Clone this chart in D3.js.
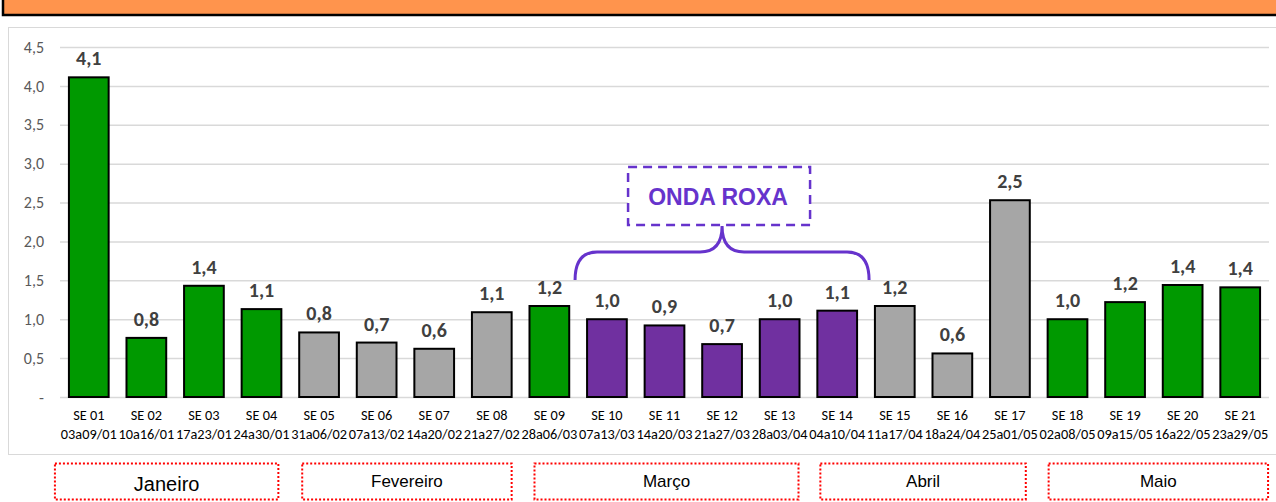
<!DOCTYPE html>
<html>
<head>
<meta charset="utf-8">
<script src="https://cdn.jsdelivr.net/npm/d3@7"></script>
<style>
  body { margin: 0; background: #fff; }
  svg { display: block; }
</style>
</head>
<body>
<svg id="chart" width="1276" height="502"></svg>
<script>
// semanas epidemiológicas
const weeks = ["SE 01","SE 02","SE 03","SE 04","SE 05","SE 06","SE 07","SE 08","SE 09","SE 10","SE 11",
               "SE 12","SE 13","SE 14","SE 15","SE 16","SE 17","SE 18","SE 19","SE 20","SE 21"];
const ranges = ["03a09/01","10a16/01","17a23/01","24a30/01","31a06/02","07a13/02","14a20/02","21a27/02",
                "28a06/03","07a13/03","14a20/03","21a27/03","28a03/04","04a10/04","11a17/04","18a24/04",
                "25a01/05","02a08/05","09a15/05","16a22/05","23a29/05"];
const values = [4.11, 0.76, 1.43, 1.13, 0.83, 0.70, 0.62, 1.09, 1.17, 1.00, 0.92,
                0.68, 1.00, 1.11, 1.17, 0.56, 2.53, 1.00, 1.22, 1.44, 1.41];
// g = verde, c = cinza, r = roxo
const groups = ["g","g","g","g","c","c","c","c","g","r","r","r","r","r","c","c","c","g","g","g","g"];
const yTicks = [0, 0.5, 1, 1.5, 2, 2.5, 3, 3.5, 4, 4.5];
const months = [
  { name: "Janeiro",   from: "SE 01", to: "SE 04" },
  { name: "Fevereiro", from: "SE 05", to: "SE 08" },
  { name: "Março",     from: "SE 09", to: "SE 13" },
  { name: "Abril",     from: "SE 14", to: "SE 17" },
  { name: "Maio",      from: "SE 18", to: "SE 21" }
];
const wave = { label: "ONDA ROXA", from: "SE 10", to: "SE 14" };

const COLORS = { g: "#009900", c: "#a6a6a6", r: "#7030a0" };
const FONT = "Carlito, Calibri, Roboto, 'Liberation Sans', sans-serif";
const fmt = v => d3.format(".1f")(v).replace(".", ",");

const svg = d3.select("#chart");
const m = { left: 60, right: 1269, top: 47, bottom: 397 };

// faixa laranja do título
svg.append("rect").attr("x", 3).attr("y", -4).attr("width", 1290).attr("height", 19)
   .attr("fill", "#ff944d").attr("stroke", "#000").attr("stroke-width", 2.5);

// painel do gráfico
svg.append("rect").attr("x", 8.5).attr("y", 27.5).attr("width", 1280).attr("height", 427)
   .attr("fill", "#fff").attr("stroke", "#d9d9d9").attr("stroke-width", 1);

const x = d3.scaleBand().domain(weeks).range([m.left, m.right]).paddingInner(0.31).paddingOuter(0.155);
const y = d3.scaleLinear().domain([0, 4.5]).range([m.bottom, m.top]);

// grade
svg.append("g")
  .attr("transform", `translate(${m.left},0)`)
  .call(d3.axisLeft(y).tickValues(yTicks).tickSize(-(m.right - m.left)).tickFormat(d => d === 0 ? "-" : fmt(d)))
  .call(g => g.select(".domain").remove())
  .call(g => g.selectAll("line").attr("stroke", "#d9d9d9").attr("stroke-width", 1.5))
  .call(g => g.selectAll("text").attr("x", -16).attr("fill", "#595959")
      .attr("font-family", FONT).attr("font-size", 16));

// barras
svg.append("g").selectAll("rect").data(weeks).join("rect")
  .attr("x", d => x(d))
  .attr("y", (d, i) => y(values[i]))
  .attr("width", x.bandwidth())
  .attr("height", (d, i) => y(0) - y(values[i]))
  .attr("fill", (d, i) => COLORS[groups[i]])
  .attr("stroke", "#000").attr("stroke-width", 2);

// rótulos de valores
svg.append("g").selectAll("text").data(weeks).join("text")
  .attr("x", d => x(d) + x.bandwidth() / 2)
  .attr("y", (d, i) => y(values[i]) - 12)
  .attr("text-anchor", "middle")
  .attr("font-family", FONT).attr("font-size", 20).attr("font-weight", "bold")
  .attr("fill", "#404040")
  .text((d, i) => fmt(values[i]));

// eixo x (duas linhas)
const xl = svg.append("g").selectAll("text").data(weeks).join("text")
  .attr("x", d => x(d) + x.bandwidth() / 2)
  .attr("text-anchor", "middle")
  .attr("font-family", FONT).attr("font-size", 14.3).attr("fill", "#000");
xl.append("tspan").attr("x", d => x(d) + x.bandwidth() / 2).attr("y", 420).text(d => d);
xl.append("tspan").attr("x", d => x(d) + x.bandwidth() / 2).attr("y", 439).text((d, i) => ranges[i]);

// chave da onda roxa
const bx0 = x(wave.from) - 12, bx1 = x(wave.to) + x.bandwidth() + 12, bmid = (bx0 + bx1) / 2;
const bTop = 252, bTip = 280, r = 22;
const brace = d3.path();
brace.moveTo(bx0, bTip);
brace.quadraticCurveTo(bx0, bTop, bx0 + r, bTop);
brace.lineTo(bmid - r, bTop);
brace.quadraticCurveTo(bmid, bTop, bmid, bTop - 26);
brace.quadraticCurveTo(bmid, bTop, bmid + r, bTop);
brace.lineTo(bx1 - r, bTop);
brace.quadraticCurveTo(bx1, bTop, bx1, bTip);
svg.append("path").attr("d", brace.toString()).attr("fill", "none")
   .attr("stroke", "#6633cc").attr("stroke-width", 3);

svg.append("rect").attr("x", bmid - 94).attr("y", 167).attr("width", 182).attr("height", 58)
   .attr("fill", "#fff").attr("stroke", "#6633cc").attr("stroke-width", 2.5).attr("stroke-dasharray", "9,6");
svg.append("text").attr("x", bmid - 4).attr("y", 205).attr("text-anchor", "middle")
   .attr("font-family", "'Liberation Sans', Arial, sans-serif").attr("font-size", 23).attr("font-weight", "bold")
   .attr("fill", "#6633cc").text(wave.label);

// caixas dos meses (ajuste relativo às bordas das barras)
const boxAdj = [[-14, -3], [3, 0], [5, -1], [3, -4], [1, 8]];
svg.append("g").selectAll("g").data(months).join("g").each(function (d, i) {
  const x0 = x(d.from) + boxAdj[i][0];
  const x1 = x(d.to) + x.bandwidth() + boxAdj[i][1];
  const g = d3.select(this);
  g.append("rect").attr("x", x0).attr("y", 463.5).attr("width", x1 - x0).attr("height", 36)
    .attr("fill", "none").attr("stroke", "#ff0000").attr("stroke-width", 2).attr("stroke-dasharray", "2,2");
  g.append("text").attr("x", (x0 + x1) / 2).attr("y", i === 0 ? 491 : 487)
    .attr("text-anchor", "middle").attr("font-family", "'Liberation Sans', Arial, sans-serif")
    .attr("font-size", i === 0 ? 20 : 17).attr("fill", "#000").text(d.name);
});
</script>
</body>
</html>
